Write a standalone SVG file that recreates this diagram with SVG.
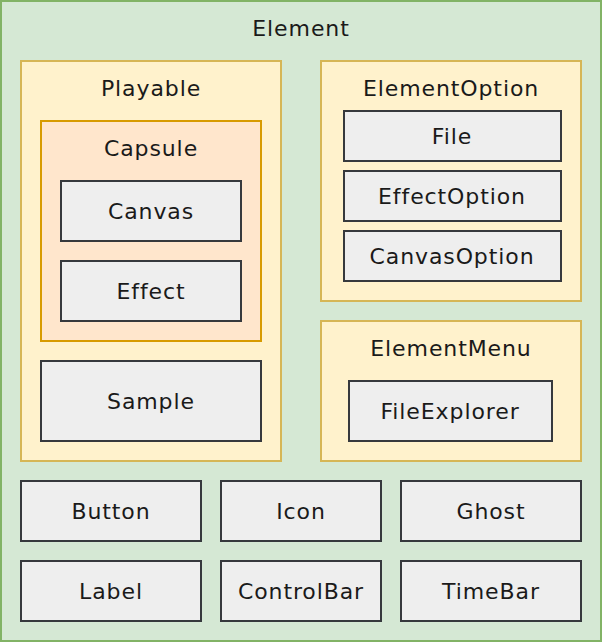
<svg xmlns="http://www.w3.org/2000/svg" width="602" height="642" viewBox="0 0 602 642">
<style>
text{font-family:"DejaVu Sans","Liberation Sans",sans-serif;font-size:22px;letter-spacing:0.9px;fill:#1a1a1a;text-anchor:middle}
.g{fill:#d5e8d4;stroke:#82b366;stroke-width:2}
.y{fill:#fff2cc;stroke:#d6b656;stroke-width:2}
.o{fill:#ffe6cc;stroke:#d79b00;stroke-width:2}
.b{fill:#eeeeee;stroke:#36393d;stroke-width:2}
</style>
<g id="Element"><rect class="g" x="1" y="1" width="600" height="640"/><text x="301" y="36">Element</text></g>
<g id="Playable"><rect class="y" x="21" y="61" width="260" height="400"/><text x="151" y="96">Playable</text></g>
<g id="Capsule"><rect class="o" x="41" y="121" width="220" height="220"/><text x="151" y="156">Capsule</text></g>
<g id="Canvas"><rect class="b" x="61" y="181" width="180" height="60"/><text x="151" y="219">Canvas</text></g>
<g id="Effect"><rect class="b" x="61" y="261" width="180" height="60"/><text x="151" y="299">Effect</text></g>
<g id="Sample"><rect class="b" x="41" y="361" width="220" height="80"/><text x="151" y="409">Sample</text></g>
<g id="ElementOption"><rect class="y" x="321" y="61" width="260" height="240"/><text x="451" y="96">ElementOption</text></g>
<g id="File"><rect class="b" x="344" y="111" width="217" height="50"/><text x="452" y="144">File</text></g>
<g id="EffectOption"><rect class="b" x="344" y="171" width="217" height="50"/><text x="452" y="204">EffectOption</text></g>
<g id="CanvasOption"><rect class="b" x="344" y="231" width="217" height="50"/><text x="452" y="264">CanvasOption</text></g>
<g id="ElementMenu"><rect class="y" x="321" y="321" width="260" height="140"/><text x="451" y="356">ElementMenu</text></g>
<g id="FileExplorer"><rect class="b" x="349" y="381" width="203" height="60"/><text x="450" y="419">FileExplorer</text></g>
<g id="Button"><rect class="b" x="21" y="481" width="180" height="60"/><text x="111" y="519">Button</text></g>
<g id="Icon"><rect class="b" x="221" y="481" width="160" height="60"/><text x="301" y="519">Icon</text></g>
<g id="Ghost"><rect class="b" x="401" y="481" width="180" height="60"/><text x="491" y="519">Ghost</text></g>
<g id="Label"><rect class="b" x="21" y="561" width="180" height="60"/><text x="111" y="599">Label</text></g>
<g id="ControlBar"><rect class="b" x="221" y="561" width="160" height="60"/><text x="301" y="599">ControlBar</text></g>
<g id="TimeBar"><rect class="b" x="401" y="561" width="180" height="60"/><text x="491" y="599">TimeBar</text></g>
<g id="connectors"/>
</svg>
